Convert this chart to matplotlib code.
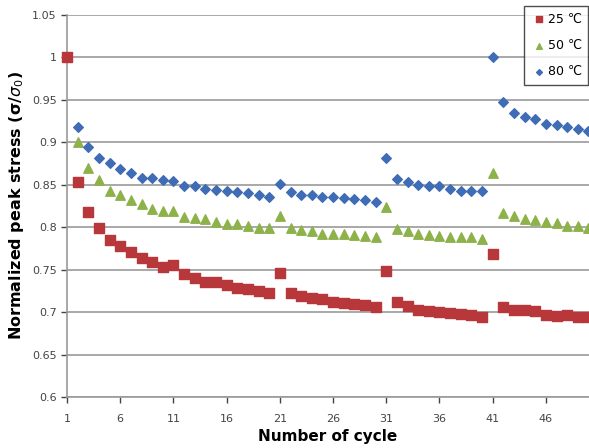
import matplotlib
matplotlib.use('Agg')
import matplotlib.pyplot as plt
from matplotlib.ticker import FuncFormatter

# cycle numbers
cycles = list(range(1, 51))

# normalized peak stress
stress_25 = [1.0, 0.853, 0.818, 0.799, 0.785, 0.778, 0.771, 0.764, 0.759, 0.753,
             0.755, 0.745, 0.740, 0.736, 0.736, 0.732, 0.729, 0.727, 0.725, 0.722,
             0.746, 0.722, 0.719, 0.717, 0.715, 0.712, 0.711, 0.709, 0.708, 0.706,
             0.749, 0.712, 0.707, 0.703, 0.701, 0.700, 0.699, 0.698, 0.697, 0.694,
             0.768, 0.706, 0.703, 0.703, 0.701, 0.697, 0.696, 0.697, 0.694, 0.694]
stress_50 = [1.0, 0.900, 0.870, 0.856, 0.843, 0.838, 0.832, 0.827, 0.821, 0.819,
             0.819, 0.812, 0.811, 0.810, 0.806, 0.804, 0.804, 0.802, 0.799, 0.799,
             0.813, 0.799, 0.797, 0.795, 0.792, 0.792, 0.792, 0.791, 0.790, 0.789,
             0.824, 0.798, 0.795, 0.792, 0.791, 0.790, 0.788, 0.788, 0.788, 0.786,
             0.864, 0.817, 0.813, 0.810, 0.809, 0.806, 0.805, 0.801, 0.801, 0.799]
stress_80 = [1.0, 0.918, 0.895, 0.882, 0.876, 0.869, 0.864, 0.858, 0.858, 0.856,
             0.854, 0.849, 0.848, 0.845, 0.844, 0.843, 0.841, 0.840, 0.838, 0.836,
             0.851, 0.841, 0.838, 0.838, 0.836, 0.836, 0.834, 0.833, 0.832, 0.830,
             0.882, 0.857, 0.853, 0.850, 0.849, 0.848, 0.845, 0.843, 0.843, 0.843,
             1.0, 0.948, 0.935, 0.930, 0.928, 0.922, 0.921, 0.918, 0.916, 0.913]

labels = ['25 ℃', '50 ℃', '80 ℃']
x_ticks = [1, 6, 11, 16, 21, 26, 31, 36, 41, 46]
y_ticks = [0.6, 0.65, 0.7, 0.75, 0.8, 0.85, 0.9, 0.95, 1.0, 1.05]

fig = plt.figure(figsize=(5.89, 4.48), dpi=100)
ax = fig.add_axes([0.1138, 0.1138, 0.8862, 0.8527])

# gridlines behind the points
for y in y_ticks:
    ax.axhline(y, color='#9a9a9a', lw=1.2, zorder=0)

ax.scatter(cycles, stress_50, marker='^', s=46, color='#8db24a', label=labels[1], zorder=3, clip_on=False)
ax.scatter(cycles, stress_80, marker='D', s=24, color='#3f6db5', label=labels[2], zorder=4, clip_on=False)
ax.scatter(cycles, stress_25, marker='s', s=48, color='#b8373a', label=labels[0], zorder=5, clip_on=False)

ax.set_xlim(1, 50.05)
ax.set_ylim(0.6, 1.05)
ax.set_xticks(x_ticks)
ax.set_yticks(y_ticks)
ax.yaxis.set_major_formatter(FuncFormatter(lambda v, p: '%g' % round(v, 2)))
ax.tick_params(axis='both', labelsize=8, colors='#444444', length=4, width=1, direction='out')
ax.tick_params(axis='x', pad=8)

for side in ['top', 'right']:
    ax.spines[side].set_visible(False)
ax.spines['left'].set_color('#9a9a9a')
ax.spines['bottom'].set_color('#9a9a9a')
ax.spines['left'].set_linewidth(1.2)
ax.spines['bottom'].set_linewidth(1.2)

ax.set_xlabel('Number of cycle', fontsize=11, fontweight='bold', labelpad=4)
ax.set_ylabel(r'Normalized peak stress (σ/$\sigma_0$)', fontsize=11.5, fontweight='bold', labelpad=4)

# legend in the order 25, 50, 80
handles, labs = ax.get_legend_handles_labels()
order = [labs.index(l) for l in labels]
leg = fig.legend([handles[i] for i in order], labels, loc='upper right',
                 bbox_to_anchor=(0.999, 0.987), borderaxespad=0, fontsize=9,
                 frameon=True, fancybox=False, handletextpad=0.1, handlelength=1.2,
                 borderpad=0.55, labelspacing=1.05, markerscale=0.6)
leg.get_frame().set_edgecolor('#222222')
leg.get_frame().set_linewidth(1.0)

plt.savefig('out.png', dpi=100)
